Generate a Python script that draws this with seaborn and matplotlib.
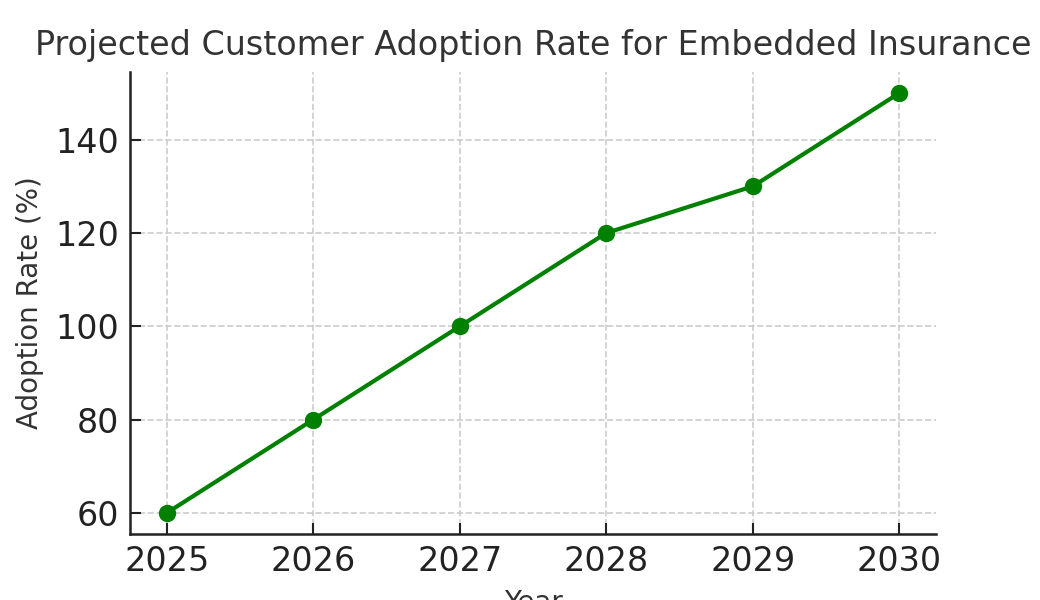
import matplotlib
matplotlib.use("Agg")
import matplotlib.pyplot as plt
import seaborn as sns
import pandas as pd

years = [2025, 2026, 2027, 2028, 2029, 2030]
adoption = [60, 80, 100, 120, 130, 150]
title = "Projected Customer Adoption Rate for Embedded Insurance"
xlabel = "Year"
ylabel = "Adoption Rate (%)"

sns.set_style("ticks")
plt.rcParams['font.family'] = ['DejaVu Sans']

df = pd.DataFrame({"Year": years, "Adoption": adoption})

fig = plt.figure(figsize=(10.4, 6), dpi=100)
ax = fig.add_axes([0.125, 0.11, 0.775, 0.77])

sns.lineplot(data=df, x="Year", y="Adoption", ax=ax, color="green",
             marker="o", markersize=12.5, markeredgewidth=0, linewidth=3)

ax.set_xticks(years)
ax.set_xticklabels([str(y) for y in years])
ax.set_yticks([60, 80, 100, 120, 140])
ax.margins(x=0.05, y=0.05)

ax.grid(True, linestyle="--", color="#cccccc", linewidth=1.2)
ax.set_axisbelow(True)
for s in ["top", "right"]:
    ax.spines[s].set_visible(False)
for s in ["left", "bottom"]:
    ax.spines[s].set_color("#222222")
    ax.spines[s].set_linewidth(1.8)

ax.tick_params(axis="both", direction="in", length=8, width=1.5,
               labelsize=24, colors="#222222", pad=8)
ax.set_title(title, fontsize=24, color="#333333", pad=12)
ax.set_xlabel(xlabel, fontsize=20, color="#333333", labelpad=8)
ax.set_ylabel(ylabel, fontsize=20, color="#333333", labelpad=8)

fig.savefig("out.png", dpi=100)
